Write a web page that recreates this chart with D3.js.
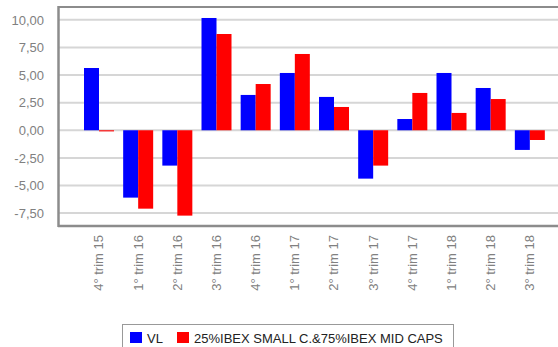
<!DOCTYPE html>
<html>
<head>
<meta charset="utf-8">
<script src="https://cdn.jsdelivr.net/npm/d3@7"></script>
<style>
  html, body { margin: 0; padding: 0; background: #fff; }
  svg { display: block; font-family: "Liberation Sans", Arial, sans-serif; }
</style>
</head>
<body>
<svg id="chart" width="558" height="347"></svg>
<script>
// Quarterly returns (%) of the fund and its benchmark
const categories = ["4° trim 15", "1° trim 16", "2° trim 16", "3° trim 16", "4° trim 16", "1° trim 17",
                    "2° trim 17", "3° trim 17", "4° trim 17", "1° trim 18", "2° trim 18", "3° trim 18"];
const seriesNames = ["VL", "25%IBEX SMALL C.&75%IBEX MID CAPS"];
const vlValues    = [5.64, -6.10, -3.20, 10.17, 3.20, 5.19, 3.02, -4.38, 1.02, 5.19, 3.83, -1.78];
const benchValues = [-0.10, -7.10, -7.73, 8.72, 4.19, 6.91, 2.11, -3.20, 3.38, 1.57, 2.83, -0.88];
const yTicks      = [-7.5, -5, -2.5, 0, 2.5, 5, 7.5, 10];
const colors      = ["#0000ff", "#ff0000"];

const svg = d3.select("#chart");
const plot = { left: 59, right: 558, top: 7.5, bottom: 226 };

const y = d3.scaleLinear().domain([-8.67, 11.12]).range([plot.bottom, plot.top]);
const x = d3.scaleBand().domain(categories).range([79.4, 549.4]).padding(0);
const xs = d3.scaleBand().domain(seriesNames).range([4.6, 34.6]).padding(0);

// grid lines
svg.append("g").selectAll("line").data(yTicks).join("line")
  .attr("x1", plot.left).attr("x2", plot.right)
  .attr("y1", d => y(d)).attr("y2", d => y(d))
  .attr("stroke", "#d6d6d6").attr("stroke-width", 2);

// bars
const rows = categories.map((c, i) => ({ c, vals: [vlValues[i], benchValues[i]] }));
const groups = svg.append("g").selectAll("g").data(rows).join("g")
  .attr("transform", d => `translate(${x(d.c)},0)`);
groups.selectAll("rect").data(d => d.vals.map((v, k) => ({ v, k })))
  .join("rect")
  .attr("x", d => xs(seriesNames[d.k]))
  .attr("width", xs.bandwidth())
  .attr("y", d => Math.min(y(d.v), y(0)))
  .attr("height", d => Math.max(1, Math.abs(y(d.v) - y(0))))
  .attr("fill", d => colors[d.k]);

// frame lines
svg.append("line").attr("x1", plot.left - 1).attr("x2", plot.right)
  .attr("y1", plot.top - 0.5).attr("y2", plot.top - 0.5)
  .attr("stroke", "#8c8c8c").attr("stroke-width", 2);
svg.append("line").attr("x1", plot.left - 1).attr("x2", plot.right)
  .attr("y1", plot.bottom).attr("y2", plot.bottom)
  .attr("stroke", "#8c8c8c").attr("stroke-width", 2.5);
svg.append("line").attr("x1", plot.left - 0.5).attr("x2", plot.left - 0.5)
  .attr("y1", plot.top - 1.5).attr("y2", plot.bottom + 1)
  .attr("stroke", "#8c8c8c").attr("stroke-width", 2.5);

// y axis labels
const fmt = v => d3.format(".2f")(v).replace(".", ",").replace("−", "-");
svg.append("g").selectAll("text").data(yTicks).join("text")
  .attr("x", 44).attr("y", d => y(d)).attr("dy", "0.36em")
  .attr("text-anchor", "end").attr("font-size", 13).attr("fill", "#808080")
  .text(fmt);

// x axis labels (rotated)
svg.append("g").selectAll("text").data(categories).join("text")
  .attr("transform", d => `translate(${x(d) + x.bandwidth() / 2 + 4.5},235) rotate(-90)`)
  .attr("text-anchor", "end").attr("font-size", 13).attr("fill", "#808080")
  .text(d => d);

// legend
const lg = svg.append("g");
lg.append("rect").attr("x", 122.5).attr("y", 324.5).attr("width", 331).attr("height", 32)
  .attr("fill", "#fff").attr("stroke", "#999").attr("stroke-width", 1);
const legendX = [130, 177];
seriesNames.forEach((name, k) => {
  lg.append("rect").attr("x", legendX[k]).attr("y", 332).attr("width", 12).attr("height", 11)
    .attr("fill", colors[k]);
  lg.append("text").attr("x", legendX[k] + 17).attr("y", 342.5)
    .attr("font-size", 13).attr("fill", "#222").text(name);
});
</script>
</body>
</html>
